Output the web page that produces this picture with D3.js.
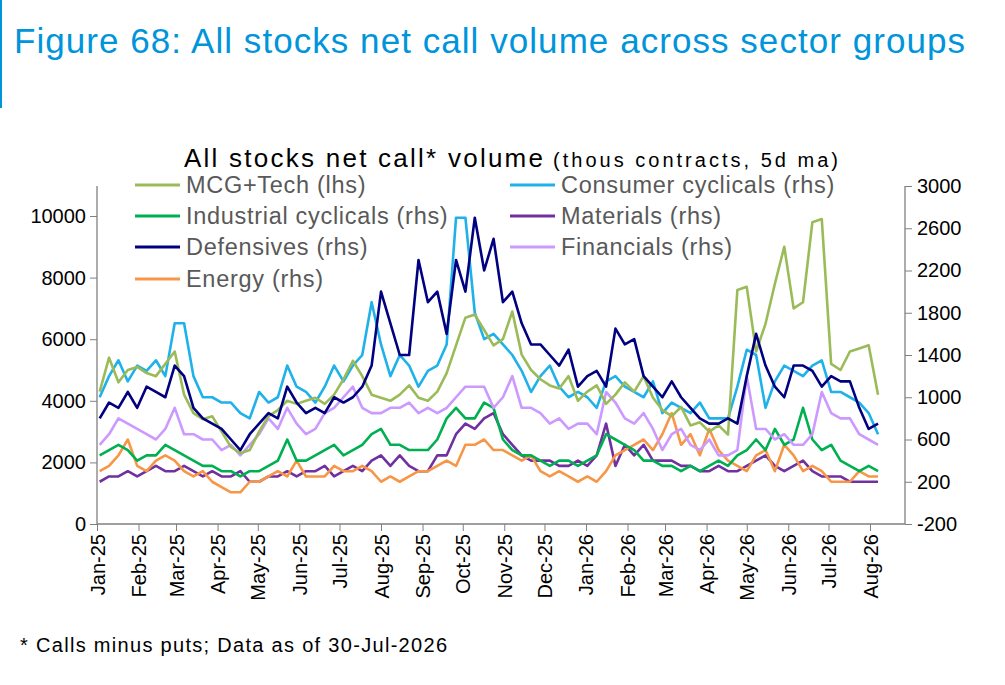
<!DOCTYPE html>
<html>
<head>
<meta charset="utf-8">
<script src="https://cdn.jsdelivr.net/npm/d3@7"></script>
<style>
  body { margin: 0; background: #fff; font-family: "Liberation Sans", Arial, sans-serif; }
</style>
</head>
<body>
<div id="wrapper"></div>
<script>
// 1. Data (weekly readings, 5d ma)
const startDate = new Date(2025, 0, 3)
const mcgTech = [4300,5400,4600,5000, 5100,4900,4800,5200, 5600,4200,3600,3400,3500, 3000,2500,2300,2400,
  3000,3500,3700,4000,3900, 4000,4100,3900,4200, 4700,5300,4800,4200,4100, 4000,4200,4500,4100,
  4000,4300,4900,5800,6700, 6800,6300,5800,6000, 6900,5500,5000,4700, 4500,4400,4800,4000,4300,
  4500,3900,4200,4600, 4300,4800,4100,3700, 3500,3800,3200,3300,3000, 3200,2900,7600,7700,
  5600,6500,7800,9000,7000, 7200,9800,9900,5200, 5000,5600,5700,5800,4200]
const consumerCyc = [1000,1200,1350,1150, 1300,1250,1350,1200, 1700,1700,1200,1000,1000, 950,950,850,800,
  1050,950,1000,1300,1100, 1050,950,1100,1300, 1150,1300,1400,1900,1500, 1200,1400,1300,1100,
  1250,1300,1500,2700,2700, 1800,1550,1600,1500, 1400,1250,1050,1200, 1300,1100,1000,1050,1000,
  900,1150,1200,1100, 1050,1000,1150,850, 950,900,850,950,800, 800,800,1100,1450,
  1400,900,1150,1300,1250, 1200,1300,1350,1050, 1050,1000,950,850,650]
const industrialCyc = [450,500,550,500, 400,450,450,550, 500,450,400,350,350, 300,300,250,300,
  300,350,400,600,400, 400,450,500,550, 450,500,550,650,700, 550,550,500,500,
  500,600,800,900,800, 800,950,900,600, 500,450,450,400, 350,400,400,350,400,
  450,650,600,550, 500,400,400,350, 350,300,350,300,350, 400,350,450,500,
  600,500,700,550,600, 900,600,500,550, 400,350,300,350,300]
const materials = [200,250,250,300, 250,300,350,300, 300,350,300,250,300, 250,250,300,200,
  200,250,250,300,250, 300,300,350,250, 300,350,300,400,450, 350,450,350,300,
  300,450,450,650,750, 700,800,850,650, 550,450,400,400, 400,350,350,400,350,
  450,750,350,550, 450,550,400,400, 400,350,350,300,300, 350,300,300,350,
  400,450,350,300,350, 400,300,250,250, 250,200,200,200,200]
const defensives = [800,950,900,1050, 900,1100,1050,1000, 1300,1200,900,800,750, 700,600,500,650,
  750,850,800,1100,950, 850,900,850,1000, 950,1000,1100,1300,2000, 1700,1400,1400,2300,
  1900,2000,1600,2300,2000, 2700,2200,2500,1900, 2000,1700,1500,1500, 1400,1300,1450,1100,1200,
  1250,1100,1650,1500, 1550,1200,1100,1000, 1150,1000,900,800,750, 750,800,750,1200,
  1600,1300,1100,1000,1300, 1300,1250,1100,1200, 1150,1150,900,700,750]
const financials = [550,650,800,750, 700,650,600,700, 900,650,650,600,600, 500,550,450,550,
  650,800,700,900,750, 650,700,850,900, 1000,1100,900,850,850, 900,900,950,850,
  900,850,900,1000,1100, 1100,1100,900,1000, 1200,900,900,850, 750,800,700,750,750,
  650,1050,950,800, 750,850,700,500, 650,700,550,500,600, 450,450,500,1200,
  700,700,600,650,550, 550,650,1050,850, 800,800,650,600,550]
const energy = [300,350,450,600, 350,300,400,450, 400,300,250,300,200, 150,100,100,200,
  200,250,300,250,400, 250,250,250,350, 300,300,350,300,200, 250,200,250,300,
  300,350,400,350,550, 550,600,500,500, 450,400,450,300, 250,300,250,200,250,
  200,300,450,500, 550,600,500,650, 850,550,650,450,700, 500,400,350,300,
  450,500,300,550,450, 300,350,300,200, 200,200,300,250,250]

const seriesNames = ["MCG+Tech (lhs)", "Consumer cyclicals (rhs)", "Industrial cyclicals (rhs)", "Materials (rhs)",
  "Defensives (rhs)", "Financials (rhs)", "Energy (rhs)"]
const seriesValues = [mcgTech, consumerCyc, industrialCyc, materials, defensives, financials, energy]
const seriesColors = ["#9BBB59", "#1FB1EA", "#00B050", "#7030A0", "#000080", "#CC99FF", "#F79646"]
const leftTicks = [0, 2000, 4000, 6000, 8000, 10000]
const rightTicks = [-200, 200, 600, 1000, 1400, 1800, 2200, 2600, 3000]

const dates = mcgTech.map((d, i) => d3.timeDay.offset(startDate, i * 7))

// 2. Dimensions
const width = 1005, height = 685
const svg = d3.select("#wrapper").append("svg").attr("width", width).attr("height", height)
  .style("font-family", "'Liberation Sans', Arial, sans-serif")

svg.append("rect").attr("x", 0).attr("y", 0).attr("width", 2).attr("height", 108).attr("fill", "#0095DA")
svg.append("text").attr("x", 14).attr("y", 53).attr("font-size", 35).attr("fill", "#0095DA")
  .attr("textLength", 951).attr("lengthAdjust", "spacing")
  .text("Figure 68: All stocks net call volume across sector groups")

svg.append("text").attr("x", 184).attr("y", 167).attr("fill", "#000").attr("font-size", 26)
  .attr("textLength", 359).attr("lengthAdjust", "spacing").text("All stocks net call* volume")
svg.append("text").attr("x", 553).attr("y", 167).attr("fill", "#000").attr("font-size", 20)
  .attr("textLength", 285).attr("lengthAdjust", "spacing").text("(thous contracts, 5d ma)")

// 3. Scales
const x = d3.scaleTime().domain([new Date(2025, 0, 1), new Date(2026, 7, 1)]).range([97, 870])
const yL = d3.scaleLinear().domain([0, 10000]).range([524, 216])
const yR = d3.scaleLinear().domain([-200, 3000]).range([524, 186])

const grey = "#808080"
// axes
const gL = svg.append("g").attr("transform", "translate(97,0)")
  .call(d3.axisLeft(yL).tickValues(leftTicks).tickSize(7).tickFormat(d => String(d)))
const gR = svg.append("g").attr("transform", "translate(905,0)")
  .call(d3.axisRight(yR).tickValues(rightTicks).tickSize(7).tickFormat(d => String(d)))
;[gL, gR].forEach(g => {
  g.select(".domain").remove()
  g.selectAll("line").attr("stroke", grey)
  g.selectAll("text").attr("font-size", 20).attr("fill", "#000")
})
gL.selectAll("text").attr("x", -11)
gR.selectAll("text").attr("x", 12)
svg.append("line").attr("x1", 97).attr("x2", 97).attr("y1", 186).attr("y2", 524).attr("stroke", grey).attr("stroke-width", 1.3)
svg.append("line").attr("x1", 905).attr("x2", 905).attr("y1", 186).attr("y2", 524).attr("stroke", grey).attr("stroke-width", 1.3)
svg.append("line").attr("x1", 97).attr("x2", 905).attr("y1", 524).attr("y2", 524).attr("stroke", grey).attr("stroke-width", 1.3)

const months = d3.timeMonth.range(new Date(2025, 0, 1), new Date(2026, 7, 2))
const gX = svg.append("g").attr("transform", "translate(0,524)")
  .call(d3.axisBottom(x).tickValues(months).tickSize(7).tickFormat(d3.timeFormat("%b-%y")))
gX.select(".domain").remove()
gX.selectAll("line").attr("stroke", grey)
gX.selectAll("text").attr("font-size", 20).attr("fill", "#000")
  .attr("transform", "rotate(-90)").attr("text-anchor", "end")
  .attr("x", -10).attr("y", 0).attr("dy", "0.35em")

// 4. Lines (draw order: back to front)
const drawOrder = [3, 6, 2, 5, 1, 0, 4]
drawOrder.forEach(i => {
  const ys = i === 0 ? yL : yR
  const line = d3.line().x((d, j) => x(dates[j])).y(d => ys(d))
  svg.append("path").datum(seriesValues[i]).attr("d", line)
    .attr("fill", "none").attr("stroke", seriesColors[i]).attr("stroke-width", 2.6)
    .attr("stroke-linejoin", "round")
})

// 5. Legend
const legendRows = [185, 216, 247, 279]
seriesNames.forEach((name, i) => {
  const col = i % 2, row = Math.floor(i / 2)
  const lx = col === 0 ? 135 : 510
  const ly = legendRows[row]
  svg.append("line").attr("x1", lx).attr("x2", lx + 45).attr("y1", ly).attr("y2", ly)
    .attr("stroke", seriesColors[i]).attr("stroke-width", 3)
  svg.append("text").attr("x", lx + 51).attr("y", ly + 8).attr("font-size", 23.5).attr("fill", "#595959")
    .attr("letter-spacing", 0.7).text(name)
})

svg.append("text").attr("x", 20).attr("y", 652).attr("font-size", 20).attr("fill", "#000")
  .attr("textLength", 427).attr("lengthAdjust", "spacing")
  .text("* Calls minus puts; Data as of 30-Jul-2026")
</script>
</body>
</html>
